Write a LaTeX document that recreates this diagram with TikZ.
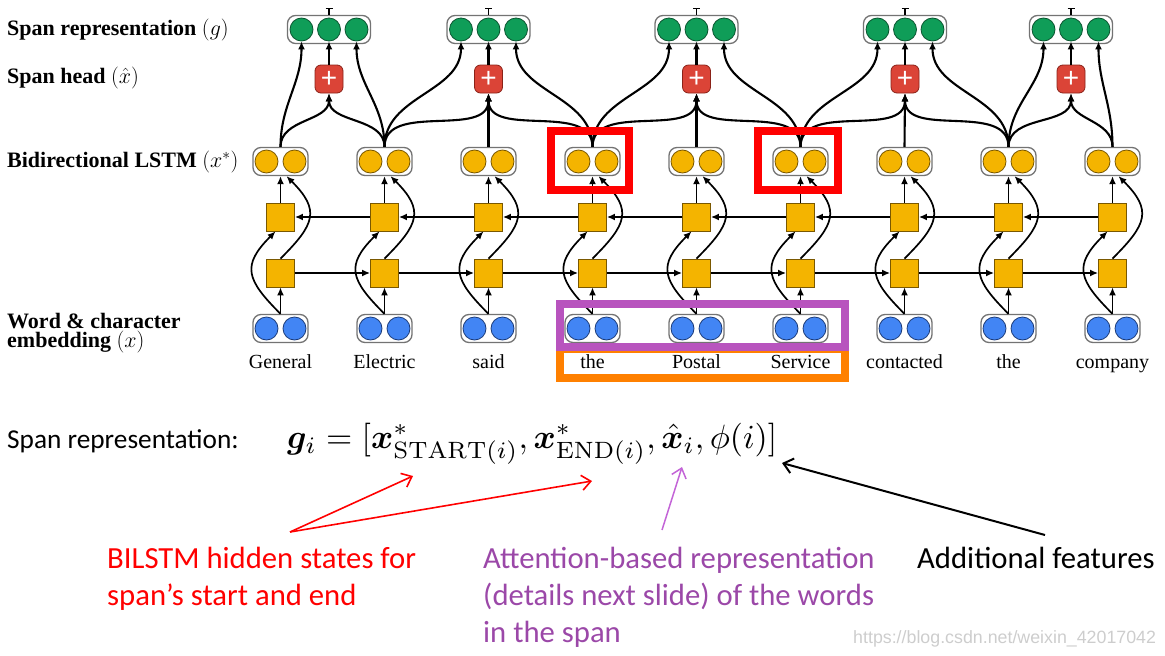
\RequirePackage{fix-cm}
\documentclass[tikz,border=0pt]{standalone}
\usepackage{fontspec}
\usepackage{amsmath,bm}
\usetikzlibrary{arrows.meta,calc}
\newfontfamily\serifT{Liberation Serif}
\newfontfamily\calib{Carlito}
\newfontfamily\arialf{Liberation Sans}
\definecolor{gfill}{HTML}{0F9D58}
\definecolor{gdraw}{HTML}{0A5530}
\definecolor{yfill}{HTML}{F4B400}
\definecolor{ydraw}{HTML}{7A5800}
\definecolor{bfill}{HTML}{4285F4}
\definecolor{bdraw}{HTML}{1C3C7A}
\definecolor{rfill}{HTML}{DB4437}
\definecolor{rdraw}{HTML}{8A2218}
\definecolor{boxgray}{RGB}{115,115,115}
\definecolor{spanred}{RGB}{255,0,0}
\definecolor{spanpurple}{RGB}{184,84,190}
\definecolor{spanorange}{RGB}{255,128,0}
\definecolor{txtpurple}{RGB}{155,72,168}
\definecolor{arrpurple}{RGB}{195,100,215}
\definecolor{wmgray}{RGB}{205,205,205}
\begin{document}
\begin{tikzpicture}[x=1pt,y=1pt,
  pairbox/.style={draw=boxgray, line width=1.3pt, fill=white, rounded corners=8pt, minimum width=55pt, minimum height=28pt, inner sep=0pt},
  tribox/.style={draw=boxgray, line width=1.3pt, fill=white, rounded corners=8pt, minimum width=83pt, minimum height=28pt, inner sep=0pt},
  circ/.style={circle, minimum size=23pt, inner sep=0pt, line width=0.8pt},
  ycirc/.style={circ, fill=yfill, draw=ydraw},
  bcirc/.style={circ, fill=bfill, draw=bdraw},
  gcirc/.style={circ, fill=gfill, draw=gdraw},
  sqbox/.style={fill=yfill, draw=ydraw, line width=0.8pt, minimum size=28pt, inner sep=0pt},
  headbox/.style={fill=rfill, draw=rdraw, line width=0.8pt, rounded corners=6pt, minimum size=28pt, inner sep=0pt, text=white, font=\arialf\fontsize{28}{28}\selectfont},
  conn/.style={line width=2.1pt, -{Latex[length=8pt,width=7pt]}},
  lconn/.style={line width=1.7pt, -{Latex[length=8pt,width=7pt]}},
  word/.style={anchor=base, inner sep=0pt, font=\serifT\fontsize{20}{24}\selectfont},
  lab/.style={anchor=base west, inner sep=0pt, font=\serifT\fontsize{22}{25}\selectfont\bfseries},
  note/.style={anchor=base west, inner sep=0pt, font=\calib\fontsize{30.7}{37}\selectfont},
  barb/.style={-{Straight Barb[length=9pt,width=15pt]}}
]
\useasboundingbox (0,0) rectangle (1165,-656);

% left labels
\node[lab] (lspan) at (7,-35) {Span representation $(g)$};
\node[lab] (lhead) at (7,-83) {Span head $(\hat{x})$};
\node[lab] (llstm) at (7,-167) {Bidirectional LSTM $(x^{*})$};
\node[lab] (lword) at (7,-328) {Word \& character};
\node[lab] (lemb) at (7,-347.5) {embedding $(x)$};

% columns
\foreach \k/\w in {0/General,1/Electric,2/said,3/the,4/Postal,5/Service,6/contacted,7/the,8/company} {
  \pgfmathsetmacro\xx{280.5+104*\k}
  \node[pairbox] (o\k) at (\xx,-161.5) {};
  \node[ycirc] (o\k-l) at (\xx-14,-161.5) {};
  \node[ycirc] (o\k-r) at (\xx+14,-161.5) {};
  \node[sqbox] (up\k) at (\xx,-217) {};
  \node[sqbox] (lo\k) at (\xx,-273) {};
  \node[pairbox] (e\k) at (\xx,-328.5) {};
  \node[bcirc] (e\k-l) at (\xx-14,-328.5) {};
  \node[bcirc] (e\k-r) at (\xx+14,-328.5) {};
  \draw[lconn] (e\k.north) -- (lo\k.south);
  \draw[lconn] (up\k.north) -- (o\k.south);
  \draw[lconn] (e\k.north) to[out=135,in=225,looseness=1.5] ([xshift=-5pt]up\k.south);
  \draw[lconn] (lo\k.north) to[out=45,in=-45,looseness=1.5] ([xshift=6pt]o\k.south);
}
\foreach \k [evaluate=\k as \kn using int(\k+1)] in {0,...,7} {
  \draw[lconn] (lo\k.east) -- (lo\kn.west);
  \draw[lconn] (up\kn.west) -- (up\k.east);
}

% spans
\foreach \j/\c/\L/\R in {1/329/0/1, 2/488.5/1/3, 3/696.5/3/5, 4/905/5/7, 5/1071/7/8} {
  \node[tribox] (s\j) at (\c,-29.5) {};
  \node[gcirc] (s\j-a) at (\c-27.5,-29.5) {};
  \node[gcirc] (s\j-b) at (\c,-29.5) {};
  \node[gcirc] (s\j-c) at (\c+27.5,-29.5) {};
  \draw[line width=1.2pt, -{Bar[width=7pt]}] (s\j.north) -- ++(0,7);
  \node[headbox] (h\j) at (\c,-79) {+};
  \draw[conn] (h\j.north) -- (s\j-b.south);
  \draw[conn] (o\L.north) to[out=90,in=-90] (s\j-a.south);
  \draw[conn] (o\R.north) to[out=90,in=-90] (s\j-c.south);
  \draw[conn] (o\L.north) to[out=90,in=-90] (h\j.south);
  \draw[conn] (o\R.north) to[out=90,in=-90] (h\j.south);
}
\draw[conn] (o2.north) -- (h2.south);
\draw[conn] (o4.north) -- (h3.south);
\draw[conn] (o6.north) -- (h4.south);

% highlight boxes
\draw[spanred, line width=8pt] (551,-131) rectangle (629,-190);
\draw[spanred, line width=8pt] (758,-131) rectangle (838,-190);
\draw[spanorange, line width=8pt] (560,-349) rectangle (845,-378);
\draw[spanpurple, line width=8pt] (560,-304) rectangle (845,-347);

% words
\foreach \k/\w in {0/General,1/Electric,2/said,3/the,4/Postal,5/Service,6/contacted,7/the,8/company} {
  \pgfmathsetmacro\xx{280.5+104*\k}
  \node[word] (w\k) at (\xx,-368.5) {\w};
}

% bottom formula
\node[anchor=base west, inner sep=0pt, font=\calib\fontsize{27.3}{32}\selectfont] (srep) at (7,-448) {Span representation:};
\node[anchor=base west, inner sep=0pt] (formula) at (287,-448)
  {\resizebox{490pt}{!}{$\bm{g}_i = [\bm{x}^{*}_{\mathrm{START}(i)}, \bm{x}^{*}_{\mathrm{END}(i)}, \hat{\bm{x}}_i, \phi(i)]$}};

% annotations
\node[note, text=spanred] (n1a) at (107,-568) {BILSTM hidden states for};
\node[note, text=spanred] (n1b) at (107,-605) {span’s start and end};
\node[note, text=txtpurple] (n2a) at (483,-568) {Attention-based representation};
\node[note, text=txtpurple] (n2b) at (483,-605) {(details next slide) of the words};
\node[note, text=txtpurple] (n2c) at (483,-642) {in the span};
\node[note, text=black] (n3) at (917,-568) {Additional features};

\coordinate (redO) at (290,-532);
\coordinate (redT1) at (413,-476);
\coordinate (redT2) at (592,-481);
\coordinate (purO) at (662,-530);
\coordinate (purT) at (682,-467);
\coordinate (blkO) at (1045,-535);
\coordinate (blkT) at (782,-463);
\draw[spanred, line width=1.6pt, barb] (redO) -- (redT1);
\draw[spanred, line width=1.6pt, barb] (redO) -- (redT2);
\draw[arrpurple, line width=1.5pt, barb] (purO) -- (purT);
\draw[black, line width=2pt, barb] (blkO) -- (blkT);

\node[anchor=base west, inner sep=0pt, text=wmgray, font=\arialf\fontsize{17.8}{20}\selectfont] (wm) at (853,-643) {https://blog.csdn.net/weixin\_42017042};
\end{tikzpicture}
\end{document}
